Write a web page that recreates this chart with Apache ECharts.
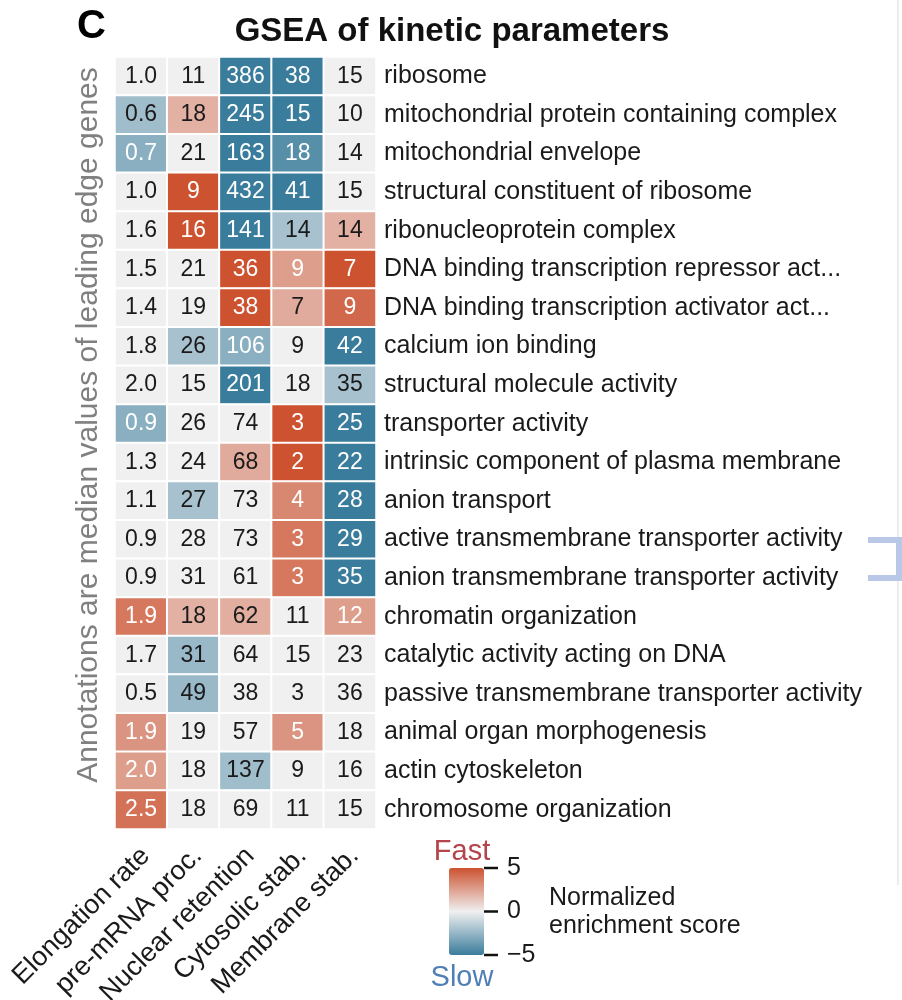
<!DOCTYPE html>
<html>
<head>
<meta charset="utf-8">
<script src="https://cdn.jsdelivr.net/npm/echarts@6/dist/echarts.min.js"></script>
<style>
html,body{margin:0;padding:0;background:#fff;}
#chart{width:902px;height:1000px;}
</style>
</head>
<body>
<div id="chart"></div>
<script>
const columns = ['Elongation rate', 'pre-mRNA proc.', 'Nuclear retention', 'Cytosolic stab.', 'Membrane stab.'];
const terms = [
  'ribosome',
  'mitochondrial protein containing complex',
  'mitochondrial envelope',
  'structural constituent of ribosome',
  'ribonucleoprotein complex',
  'DNA binding transcription repressor act...',
  'DNA binding transcription activator act...',
  'calcium ion binding',
  'structural molecule activity',
  'transporter activity',
  'intrinsic component of plasma membrane',
  'anion transport',
  'active transmembrane transporter activity',
  'anion transmembrane transporter activity',
  'chromatin organization',
  'catalytic activity acting on DNA',
  'passive transmembrane transporter activity',
  'animal organ morphogenesis',
  'actin cytoskeleton',
  'chromosome organization'
];
// normalized enrichment scores (colour)
const nesElong = [0, -2.2, -2.8, 0, 0, 0, 0, 0, 0, -2.8, 0, 0, 0, 0, 3.8, 0, 0, 2.9, 2.6, 4.0];
const nesPre   = [0, 2.0, 0, 5, 5, 0, 0, -2.0, 0, 0, 0, -2.0, 0, 0, 2.0, -2.4, -2.4, 0, 0, 0];
const nesNuc   = [-5, -5, -5, -5, -5, 5, 5, -2.8, -5, 0, 2.2, 0, 0, 0, 2.1, 0, 0, 0, -2.2, 0];
const nesCyt   = [-5, -5, -4.2, -5, -2.0, 2.6, 2.2, 0, 0, 5, 5, 3.3, 3.8, 3.8, 0, 0, 0, 2.9, 0, 0];
const nesMem   = [0, 0, 0, 0, 2.0, 5, 4.3, -5, -2.0, -5, -5, -5, -5, -5, 2.6, 0, 0, 0, 0, 0];
// annotations: median values of leading edge genes
const annElong = [1.0, 0.6, 0.7, 1.0, 1.6, 1.5, 1.4, 1.8, 2.0, 0.9, 1.3, 1.1, 0.9, 0.9, 1.9, 1.7, 0.5, 1.9, 2.0, 2.5];
const annPre   = [11, 18, 21, 9, 16, 21, 19, 26, 15, 26, 24, 27, 28, 31, 18, 31, 49, 19, 18, 18];
const annNuc   = [386, 245, 163, 432, 141, 36, 38, 106, 201, 74, 68, 73, 73, 61, 62, 64, 38, 57, 137, 69];
const annCyt   = [38, 15, 18, 41, 14, 9, 7, 9, 18, 3, 2, 4, 3, 3, 11, 15, 3, 5, 9, 11];
const annMem   = [15, 10, 14, 15, 14, 7, 9, 42, 35, 25, 22, 28, 29, 35, 12, 23, 36, 18, 16, 15];
const legendTicks = [5, 0, -5];

const nesCols = [nesElong, nesPre, nesNuc, nesCyt, nesMem];
const annCols = [annElong, annPre, annNuc, annCyt, annMem];

const FONT = '"Liberation Sans", Arial, Helvetica, sans-serif';
const data = [];
nesCols.forEach((col, c) => {
  col.forEach((v, r) => {
    const a = annCols[c][r];
    data.push({
      value: [c, r, v, c === 0 ? a.toFixed(1) : String(a)],
      label: { color: Math.abs(v) >= 2.5 ? '#ffffff' : '#1a1a1a' }
    });
  });
});

const chart = echarts.init(document.getElementById('chart'), null, { renderer: 'canvas' });

// colour bar geometry
const cbLeft = 449, cbTop = 868, cbW = 35, cbH = 87;
const tickGraphics = [];
legendTicks.forEach(t => {
  const y = cbTop + (5 - t) / 10 * cbH;
  tickGraphics.push({
    type: 'line', shape: { x1: cbLeft + cbW, y1: y, x2: cbLeft + cbW + 14, y2: y },
    style: { stroke: '#111', lineWidth: 2.5 }
  });
  tickGraphics.push({
    type: 'text', x: cbLeft + cbW + 23, y: y,
    style: { text: t < 0 ? '\u2212' + Math.abs(t) : String(t), font: '25px ' + FONT, fill: '#1a1a1a', textVerticalAlign: 'middle', textAlign: 'left' }
  });
});

chart.setOption({
  backgroundColor: '#ffffff',
  animation: false,
  title: {
    text: 'GSEA of kinetic parameters',
    left: 447, top: 10, textAlign: 'center',
    textStyle: { fontFamily: FONT, fontWeight: 'bold', fontSize: 33, color: '#111' }
  },
  grid: { left: 115, top: 57, width: 261, height: 772, outerBoundsMode: 'none', containLabel: false },
  xAxis: {
    type: 'category', data: columns, position: 'bottom',
    axisLine: { show: false }, axisTick: { show: false }, splitLine: { show: false },
    axisLabel: {
      rotate: 45, interval: 0, fontSize: 27, color: '#1a1a1a', fontFamily: FONT,
      margin: 4, align: 'right', verticalAlign: 'top', padding: [3, 10, 0, 0]
    }
  },
  yAxis: {
    type: 'category', data: terms, inverse: true, position: 'right',
    axisLine: { show: false }, axisTick: { show: false }, splitLine: { show: false },
    axisLabel: { interval: 0, fontSize: 25, color: '#1a1a1a', fontFamily: FONT, margin: 8 }
  },
  visualMap: {
    type: 'continuous', dimension: 2, min: -5, max: 5,
    show: true, calculable: false, orient: 'vertical',
    left: cbLeft, top: cbTop, itemWidth: cbW, itemHeight: cbH, padding: 0,
    text: null, showLabel: false, hoverLink: false,
    inRange: { color: ['#3a7c9c', '#f0f0f0', '#cc5230'] }
  },
  series: [{
    type: 'heatmap',
    data: data,
    itemStyle: { borderColor: '#ffffff', borderWidth: 2 },
    label: {
      show: true, fontSize: 23, fontFamily: FONT,
      formatter: p => p.value[3]
    },
    emphasis: { disabled: true }
  }],
  graphic: [
    { type: 'text', left: 77, top: 7, style: { text: 'C', font: 'bold 40px ' + FONT, fill: '#000' } },
    {
      type: 'text', x: 89, y: 425, rotation: Math.PI / 2,
      style: { text: 'Annotations are median values of leading edge genes', font: '30px ' + FONT, fill: '#808080', textAlign: 'center', textVerticalAlign: 'middle' }
    },
    { type: 'text', x: 462, y: 852, style: { text: 'Fast', font: '29px ' + FONT, fill: '#b5434a', textAlign: 'center', textVerticalAlign: 'middle' } },
    { type: 'text', x: 462, y: 978, style: { text: 'Slow', font: '29px ' + FONT, fill: '#4f7fb5', textAlign: 'center', textVerticalAlign: 'middle' } },
    { type: 'text', x: 549, y: 898, style: { text: 'Normalized', font: '25px ' + FONT, fill: '#1a1a1a', textVerticalAlign: 'middle' } },
    { type: 'text', x: 549, y: 926, style: { text: 'enrichment score', font: '25px ' + FONT, fill: '#1a1a1a', textVerticalAlign: 'middle' } },
    ...tickGraphics,
    { type: 'line', shape: { x1: 898, y1: 0, x2: 898, y2: 885 }, style: { stroke: '#ececec', lineWidth: 2 } },
    { type: 'polyline', shape: { points: [[868, 540], [899, 540], [899, 578], [868, 578]] }, style: { stroke: '#b9c8e6', lineWidth: 6, fill: null } }
  ]
});
</script>
</body>
</html>
